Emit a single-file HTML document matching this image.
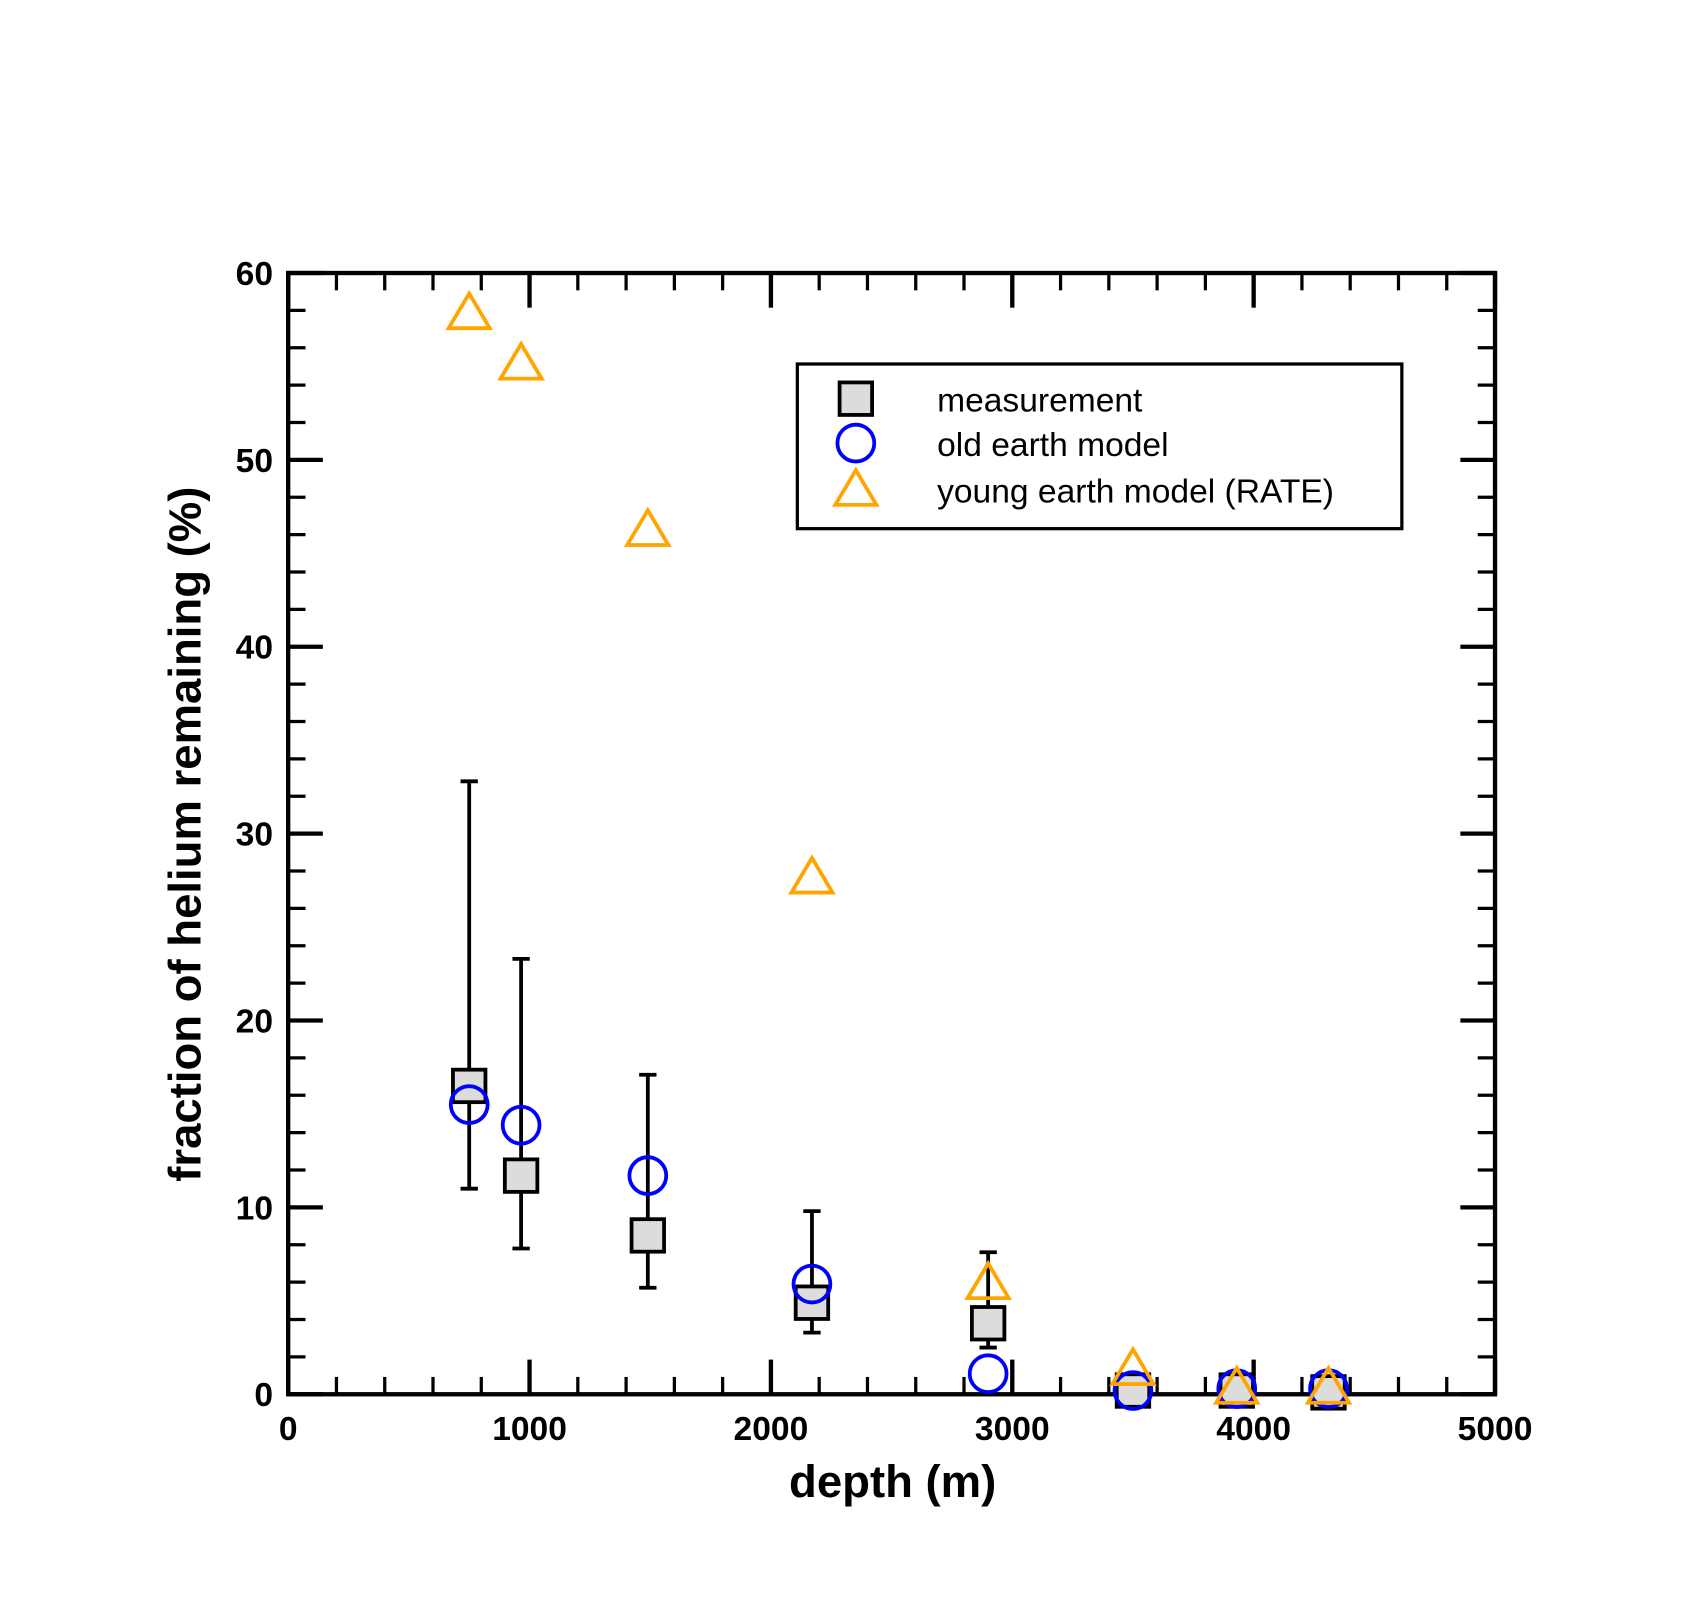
<!DOCTYPE html>
<html><head><meta charset="utf-8"><style>
html,body{margin:0;padding:0;background:#fff}
svg{display:block;font-family:"Liberation Sans",Arial,sans-serif}
</style></head><body>
<svg id="chart" width="1700" height="1600" viewBox="0 0 1569.2 1476.9">
<g id="axes"></g>
<g id="marks"></g>
<g>
<rect x="736" y="336" width="558" height="152" fill="#fff" stroke="#000" stroke-width="3"/>
<rect x="775" y="353" width="30" height="30" fill="#dcdcdc" stroke="#000" stroke-width="3.5"/>
<circle cx="790" cy="409" r="17" fill="none" stroke="#0000ff" stroke-width="3.5"/>
<polygon points="790,434 809,466 771,466" fill="none" stroke="#ffa500" stroke-width="3.5"/>
<text x="865" y="380" font-size="31">measurement</text>
<text x="865" y="421" font-size="31">old earth model</text>
<text x="865" y="464" font-size="31">young earth model (RATE)</text>
</g>
<text x="824" y="1382" font-size="42" font-weight="bold" text-anchor="middle">depth  (m)</text>
<text transform="translate(185,770) rotate(-90)" font-size="42" font-weight="bold" text-anchor="middle">fraction of helium remaining  (%)</text>
</svg>
<script>
const depths=[750,965,1490,2170,2900,3500,3930,4310];
const measured=[16.5,11.7,8.5,4.9,3.8,0.2,0.2,0.1];
const errLow=[11.0,7.8,5.7,3.3,2.5,null,null,null];
const errHigh=[32.8,23.3,17.1,9.8,7.6,null,null,null];
const oldEarth=[15.5,14.4,11.7,5.9,1.1,0.2,0.3,0.3];
const youngEarth=[57.8,55.1,46.2,27.6,5.9,1.3,0.3,0.3];
const xTicks=[0,1000,2000,3000,4000,5000];
const yTicks=[0,10,20,30,40,50,60];
const L=266,R=1380,T=252,B=1287;
const xs=v=>L+(v/5000)*(R-L);
const ys=v=>B-(v/60)*(B-T);
const NS="http://www.w3.org/2000/svg";
function mk(tag,attrs,parent){const e=document.createElementNS(NS,tag);for(const k in attrs)e.setAttribute(k,attrs[k]);parent.appendChild(e);return e;}
const ax=document.getElementById('axes');
const mg=document.getElementById('marks');
// minor ticks
for(let v=0;v<=5000;v+=200){const major=v%1000===0;const len=major?32:16;
 const t1=mk('line',{x1:xs(v),x2:xs(v),y1:B,y2:B-len,stroke:'#000','stroke-width':major?4:3},ax);
 
 
 const t2=mk('line',{x1:xs(v),x2:xs(v),y1:T,y2:T+len,stroke:'#000','stroke-width':major?4:3},ax);
 
 }
for(let v=0;v<=60;v+=2){const major=v%10===0;const len=major?32:16;
 const t1=mk('line',{x1:L,x2:L+len,y1:ys(v),y2:ys(v),stroke:'#000','stroke-width':major?4:3},ax);
 
 
 const t2=mk('line',{x1:R,x2:R-len,y1:ys(v),y2:ys(v),stroke:'#000','stroke-width':major?4:3},ax);
 
 }
const frame=mk('rect',{x:L,y:T,width:R-L,height:B-T,fill:'none',stroke:'#000','stroke-width':4},ax);


xTicks.forEach(v=>{const t=mk('text',{x:xs(v),y:B+42,'font-size':31,'font-weight':'bold','text-anchor':'middle'},ax);t.textContent=v;
 
 });
yTicks.forEach(v=>{const t=mk('text',{x:L-14,y:ys(v)+11,'font-size':31,'font-weight':'bold','text-anchor':'end'},ax);t.textContent=v;
 
 });
// error bars
depths.forEach((d,i)=>{if(errLow[i]==null)return;const x=xs(d);
 const g=mk('g',{stroke:'#000','stroke-width':3.5},mg);
 
 
 mk('line',{x1:x,x2:x,y1:ys(errLow[i]),y2:ys(errHigh[i])},g);
 mk('line',{x1:x-8,x2:x+8,y1:ys(errLow[i]),y2:ys(errLow[i])},g);
 mk('line',{x1:x-8,x2:x+8,y1:ys(errHigh[i]),y2:ys(errHigh[i])},g);});
depths.forEach((d,i)=>{const s=mk('rect',{x:xs(d)-15,y:ys(measured[i])-15,width:30,height:30,fill:'#dcdcdc',stroke:'#000','stroke-width':3.5},mg);
 
 });
depths.forEach((d,i)=>{const c=mk('circle',{cx:xs(d),cy:ys(oldEarth[i]),r:17,fill:'none',stroke:'#0000ff','stroke-width':3.5},mg);
 
 });
depths.forEach((d,i)=>{const x=xs(d),y=ys(youngEarth[i]);
 const p=mk('polygon',{points:`${x},${y-19} ${x+19},${y+13} ${x-19},${y+13}`,fill:'none',stroke:'#ffa500','stroke-width':3.5},mg);
 
 });
</script>
</body></html>
